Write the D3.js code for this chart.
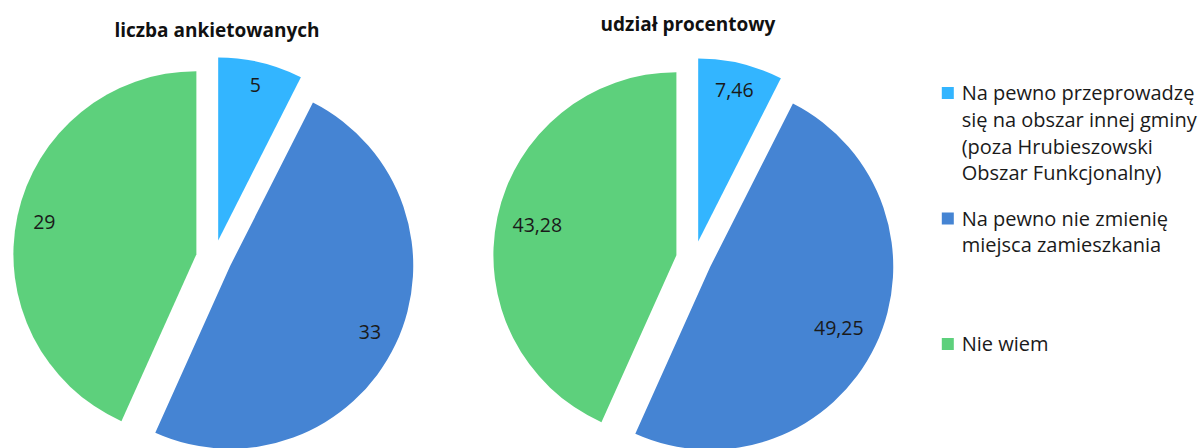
<!DOCTYPE html>
<html><head><meta charset="utf-8">
<script src="https://cdn.jsdelivr.net/npm/d3@7"></script>
<style>html,body{margin:0;padding:0;background:#fff;}svg{display:block;}</style>
</head><body><div id="chart"></div>
<script>
const categories = [
  "Na pewno przeprowadzę\nsię na obszar innej gminy\n(poza Hrubieszowski\nObszar Funkcjonalny)",
  "Na pewno nie zmienię\nmiejsca zamieszkania",
  "Nie wiem"
];
const countValues = [5, 33, 29];
const percentValues = [7.46, 49.25, 43.28];
const chartTitles = ["liczba ankietowanych", "udział procentowy"];
const colors = ["#33b5ff", "#4584d3", "#5dd07c"];

const W = 1200, H = 448;
const R = 183, explode = 18, labelPad = 15, digitH = 14;
const FONT = "'Open Sans', Lato, sans-serif";

const svg = d3.select("#chart").append("svg").attr("width", W).attr("height", H);

const pl = d3.formatLocale({decimal: ",", thousands: " ", grouping: [3], currency: ["", " zł"]});
const fmtCount = d3.format("d");
const fmtPct = pl.format(".2f");

const color = d3.scaleOrdinal().domain(categories).range(colors);
const pie = d3.pie().sort(null).value(d => d.v);
const arc = d3.arc().innerRadius(0).outerRadius(R);

const charts = [
  {title: chartTitles[0], values: countValues, fmt: fmtCount, cx: 214, cy: 258, tx: 217, ty: 37},
  {title: chartTitles[1], values: percentValues, fmt: fmtPct, cx: 694, cy: 259, tx: 688, ty: 31}
];

charts.forEach(ch => {
  const data = ch.values.map((v, i) => ({v, cat: categories[i]}));
  const arcs = pie(data);
  svg.append("text").attr("x", ch.tx).attr("y", ch.ty)
    .attr("text-anchor", "middle").attr("font-family", FONT)
    .attr("font-weight", "bold").attr("font-size", 19).attr("fill", "#111")
    .text(ch.title);
  const g = svg.append("g").attr("transform", `translate(${ch.cx},${ch.cy})`);
  arcs.forEach(a => {
    const mid = (a.startAngle + a.endAngle) / 2;
    const dx = Math.sin(mid), dy = -Math.cos(mid);
    const sg = g.append("g").attr("transform", `translate(${dx*explode},${dy*explode})`);
    sg.append("path").attr("d", arc(a)).attr("fill", color(a.data.cat));
    const t = sg.append("text").attr("font-family", FONT).attr("font-size", 19.5)
      .attr("fill", "#1a1a1a").attr("text-anchor", "middle").text(ch.fmt(a.data.v));
    const w = t.node().getComputedTextLength();
    // radius at which the label box fits inside the arc with padding
    let lo = 0, hi = R;
    for (let k = 0; k < 40; k++) {
      const m = (lo + hi) / 2;
      const px = dx*m, py = dy*m;
      let maxd = 0;
      [[-1,-1],[1,-1],[-1,1],[1,1]].forEach(([sx, sy]) => {
        maxd = Math.max(maxd, Math.hypot(px + sx*w/2, py + sy*digitH/2));
      });
      if (maxd > R - labelPad) hi = m; else lo = m;
    }
    t.attr("x", dx*lo).attr("y", dy*lo + digitH/2);
  });
});

// legend
const ly = d3.scalePoint().domain(categories).range([100, 351]);
const lineH = 26.8;
const lg = svg.append("g");
categories.forEach(c => {
  const y0 = ly(c);
  lg.append("rect").attr("x", 941.8).attr("y", y0 - 13).attr("width", 12).attr("height", 12)
    .attr("fill", color(c));
  const tx = lg.append("text").attr("font-family", FONT).attr("font-size", 20).attr("fill", "#1a1a1a");
  c.split("\n").forEach((line, i) => {
    tx.append("tspan").attr("x", 961.7).attr("y", y0 + i*lineH).text(line);
  });
});
</script></body></html>
